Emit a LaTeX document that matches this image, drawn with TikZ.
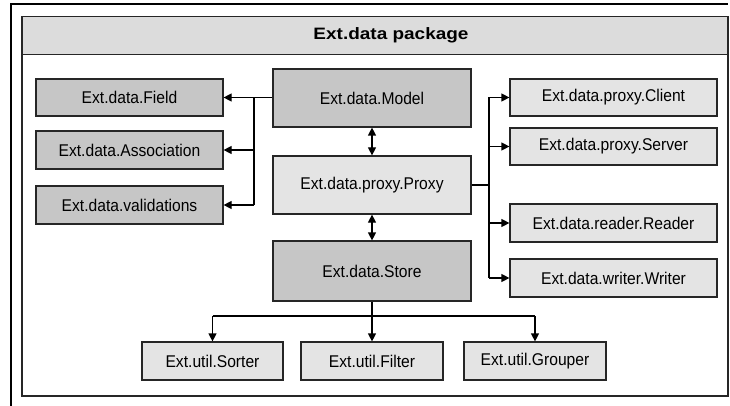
\documentclass[tikz,border=0pt]{standalone}
\usepackage{fontspec}
\setmainfont{Liberation Sans}
\newfontfamily\boxfont[FakeStretch=0.92]{Liberation Sans}
\newfontfamily\headfont[FakeStretch=1.15]{Liberation Sans}
\usetikzlibrary{arrows.meta}
\definecolor{darkbox}{HTML}{C6C6C6}
\definecolor{lightbox}{HTML}{E4E4E4}
\definecolor{titlebar}{HTML}{DCDCDC}
\begin{document}
\begin{tikzpicture}[x=1pt,y=-1pt,
  box/.style={draw=black!85,line width=1.2pt,inner sep=0pt,font=\boxfont\fontsize{17}{19}\selectfont},
  dbox/.style={box,fill=darkbox},
  lbox/.style={box,fill=lightbox},
  conn/.style={line width=1.2pt,-{Triangle[length=8pt,width=8pt]}},
  dconn/.style={line width=1.2pt,{Triangle[length=8pt,width=8pt]}-{Triangle[length=8pt,width=8pt]}},
  plain/.style={line width=1.2pt}]
\useasboundingbox (0,0) rectangle (730,406);
% outer frame
\draw[line width=1.2pt] (11,406) -- (11,4) -- (728,4);
% inner frame
\draw[line width=1.2pt,draw=black!85] (22,16.5) rectangle (728,396);
\draw[line width=1.2pt,draw=black!85,fill=titlebar] (22,16.5) rectangle (728,54.5);
\node[inner sep=0pt,font=\headfont\bfseries\fontsize{16.5}{18}\selectfont] (title) at (391,35.5) {Ext.data package};
% left boxes
\node[dbox,minimum width=187pt,minimum height=37pt] (field) at (129.5,97.5) {Ext.data.Field};
\node[dbox,minimum width=187pt,minimum height=38pt] (assoc) at (129.5,150) {Ext.data.Association};
\node[dbox,minimum width=187pt,minimum height=38pt] (valid) at (129.5,205) {Ext.data.validations};
% centre boxes
\node[dbox,minimum width=198pt,minimum height=58pt] (model) at (372,98) {Ext.data.Model};
\node[lbox,minimum width=198pt,minimum height=58pt] (proxy) at (372,185) {Ext.data.proxy.Proxy};
\node[dbox,minimum width=198pt,minimum height=60pt] (store) at (372,271) {Ext.data.Store};
% right boxes
\node[lbox,minimum width=207pt,minimum height=37pt] (client) at (613.5,97.5) {Ext.data.proxy.Client};
\node[lbox,minimum width=207pt,minimum height=37pt] (server) at (613.5,146.5) {Ext.data.proxy.Server};
\node[lbox,minimum width=207pt,minimum height=38pt] (reader) at (613.5,223) {Ext.data.reader.Reader};
\node[lbox,minimum width=207pt,minimum height=38pt] (writer) at (613.5,278) {Ext.data.writer.Writer};
% bottom boxes
\node[lbox,minimum width=141pt,minimum height=38pt] (sorter) at (212.5,361) {Ext.util.Sorter};
\node[lbox,minimum width=142pt,minimum height=38pt] (filter) at (372,361) {Ext.util.Filter};
\node[lbox,minimum width=142pt,minimum height=38pt] (grouper) at (535,361) {Ext.util.Grouper};
% left connectors
\coordinate (lt) at (254,97.5);
\draw[plain] (model.west |- lt) -- (lt) -- (lt |- valid.east);
\draw[conn] (lt) -- (field.east);
\draw[conn] (lt |- assoc.east) -- (assoc.east);
\draw[conn] (lt |- valid.east) -- (valid.east);
% right connectors
\coordinate (rt) at (489,185);
\draw[plain] (proxy.east) -- (rt);
\draw[plain] (rt |- client.west) -- (rt |- writer.west);
\draw[conn] (rt |- client.west) -- (client.west);
\draw[conn] (rt |- server.west) -- (server.west);
\draw[conn] (rt |- reader.west) -- (reader.west);
\draw[conn] (rt |- writer.west) -- (writer.west);
% double arrows
\draw[dconn] (model.south) -- (proxy.north);
\draw[dconn] (proxy.south) -- (store.north);
% bottom connectors
\coordinate (bt) at (372,316);
\draw[plain] (store.south) -- (bt);
\draw[plain] (sorter.north |- bt) -- (grouper.north |- bt);
\draw[conn] (sorter.north |- bt) -- (sorter.north);
\draw[conn] (bt) -- (filter.north);
\draw[conn] (grouper.north |- bt) -- (grouper.north);
\end{tikzpicture}
\end{document}
